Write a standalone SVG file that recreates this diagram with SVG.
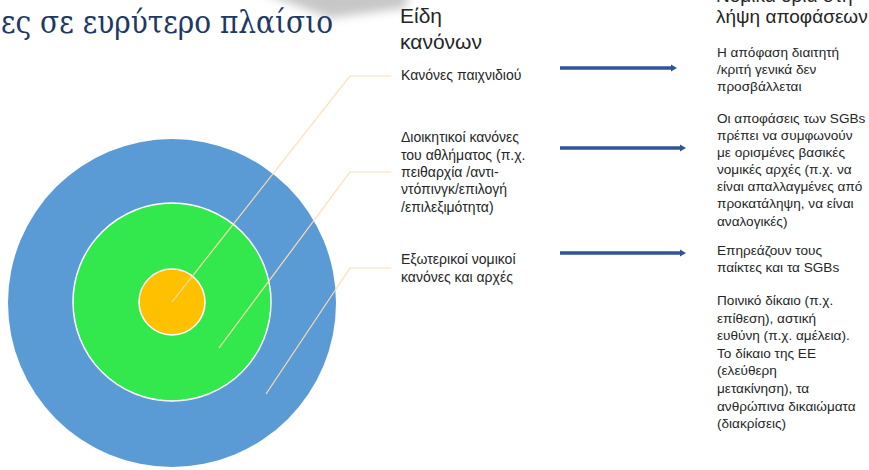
<svg xmlns="http://www.w3.org/2000/svg" width="869" height="470" viewBox="0 0 869 470">
<defs>
<style>
.t{font-family:"Liberation Sans","Noto Sans",sans-serif;font-size:14px;fill:#262626}
.r{font-family:"Liberation Sans","Noto Sans",sans-serif;font-size:13.6px;fill:#262626}
.h1{font-family:"Liberation Sans","Noto Sans",sans-serif;font-size:21px;fill:#262626}
.h2{font-family:"Liberation Sans","Noto Sans",sans-serif;font-size:19px;fill:#262626}
.lead{fill:none;stroke:#FFDCB0;stroke-width:1.2}
.arr{stroke:#2F5597;stroke-width:3.5;fill:none;marker-end:url(#ah)}
.ring{stroke:#fff;stroke-width:1.5}
</style>
<marker id="ah" markerWidth="6" markerHeight="8" refX="2" refY="4" orient="auto" markerUnits="userSpaceOnUse" viewBox="0 0 6 8">
<path d="M0,0.5 L6,4 L0,7.5 Z" fill="#2F5597"/>
</marker>
<filter id="blur" x="-20%" y="-50%" width="140%" height="200%"><feGaussianBlur stdDeviation="5"/></filter>
</defs>
<rect width="869" height="470" fill="#fff"/>
<path d="M255,-10 L410,-10 L405,8 L330,18 Z" fill="#9a9a9a" opacity="0.55" filter="url(#blur)"/>
<text x="1" y="33" font-family="'DejaVu Serif','Liberation Serif',serif" font-size="32" textLength="332" lengthAdjust="spacingAndGlyphs" fill="#203864">ες σε ευρύτερο πλαίσιο</text>

<g id="target">
<circle id="outer" cx="172" cy="303" r="164" fill="#5B9BD5"/>
<circle id="middle" class="ring" cx="172" cy="302" r="99" fill="#33E84D"/>
<circle id="inner" class="ring" cx="172" cy="302" r="33" fill="#FFC000"/>
</g>

<g id="connectors">
<polyline class="lead" points="172,302 350,76 391,76"/>
<polyline class="lead" points="219,348 350,172 391,172"/>
<polyline class="lead" points="266,394 350,268 391,268"/>
<line class="arr" x1="560" y1="68" x2="673" y2="68"/>
<line class="arr" x1="560" y1="148" x2="682" y2="148"/>
<line class="arr" x1="560" y1="253" x2="682" y2="253"/>
</g>

<g id="heading-types">
<text class="h1" x="400" y="23">Είδη</text>
<text class="h1" x="400" y="49">κανόνων</text>
</g>
<g id="heading-limits">
<text class="h2" x="716" y="2">Νομικά όρια στη</text>
<text class="h2" x="716" y="23">λήψη αποφάσεων</text>
</g>

<g id="rule-game">
<text class="t" x="401" y="80">Κανόνες παιχνιδιού</text>
</g>
<g id="rule-admin">
<text class="t" x="401" y="142">Διοικητικοί κανόνες</text>
<text class="t" x="401" y="160">του αθλήματος (π.χ.</text>
<text class="t" x="401" y="177">πειθαρχία /αντι-</text>
<text class="t" x="401" y="194">ντόπινγκ/επιλογή</text>
<text class="t" x="401" y="212">/επιλεξιμότητα)</text>
</g>
<g id="rule-external">
<text class="t" x="401" y="264">Εξωτερικοί νομικοί</text>
<text class="t" x="401" y="282">κανόνες και αρχές</text>
</g>

<g id="limit-game">
<text class="r" x="717" y="57">Η απόφαση διαιτητή</text>
<text class="r" x="717" y="74">/κριτή γενικά δεν</text>
<text class="r" x="717" y="91">προσβάλλεται</text>
</g>
<g id="limit-admin">
<text class="r" x="717" y="123">Οι αποφάσεις των SGBs</text>
<text class="r" x="717" y="140">πρέπει να συμφωνούν</text>
<text class="r" x="717" y="157">με ορισμένες βασικές</text>
<text class="r" x="717" y="174">νομικές αρχές (π.χ. να</text>
<text class="r" x="717" y="191">είναι απαλλαγμένες από</text>
<text class="r" x="717" y="208">προκατάληψη, να είναι</text>
<text class="r" x="717" y="226">αναλογικές)</text>
</g>
<g id="limit-external">
<text class="r" x="717" y="255">Επηρεάζουν τους</text>
<text class="r" x="717" y="272">παίκτες και τα SGBs</text>
<text class="r" x="717" y="305">Ποινικό δίκαιο (π.χ.</text>
<text class="r" x="717" y="323">επίθεση), αστική</text>
<text class="r" x="717" y="340">ευθύνη (π.χ. αμέλεια).</text>
<text class="r" x="717" y="358">Το δίκαιο της ΕΕ</text>
<text class="r" x="717" y="375">(ελεύθερη</text>
<text class="r" x="717" y="393">μετακίνηση), τα</text>
<text class="r" x="717" y="411">ανθρώπινα δικαιώματα</text>
<text class="r" x="717" y="428">(διακρίσεις)</text>
</g>
</svg>
